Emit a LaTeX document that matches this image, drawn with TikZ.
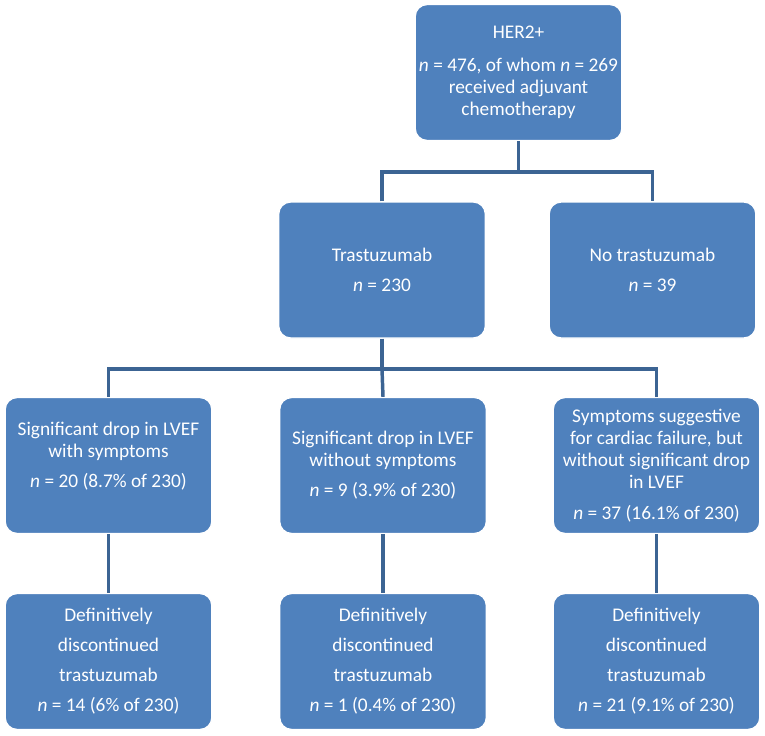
\documentclass[tikz,border=0pt]{standalone}
\usepackage{fontspec}
\setmainfont{Carlito}
\definecolor{boxblue}{HTML}{4F81BD}
\definecolor{linkblue}{HTML}{3C6493}
\begin{document}
\begin{tikzpicture}[
    x=0.75pt, y=-0.75pt,
    stage/.style={rectangle, rounded corners=9pt, draw=white, line width=1pt, fill=boxblue,
      text=white, minimum width=155pt, minimum height=102pt, align=center, inner sep=2pt,
      font=\fontsize{14.5}{16.5}\selectfont},
    link/.style={draw=linkblue, line width=2.6pt}
  ]
  \useasboundingbox (0,0) rectangle (765,736);

  \node[stage] (her) at (518.5,72.5) {HER2+\\[8pt] \textit{n} = 476, of whom \textit{n} = 269\\ received adjuvant\\ chemotherapy};
  \node[stage] (tras) at (382,270) {Trastuzumab\\[6pt] \textit{n} = 230};
  \node[stage] (notras) at (652.5,270) {No trastuzumab\\[6pt] \textit{n} = 39};

  \node[stage] (drop1) at (108.5,465.5) {Significant drop in LVEF\\ with symptoms\\[6pt] \textit{n} = 20 (8.7\% of 230)\\[0pt] \mbox{}};
  \node[stage] (drop2) at (383,465.5) {Significant drop in LVEF\\ without symptoms\\[6pt] \textit{n} = 9 (3.9\% of 230)};
  \node[stage] (susp) at (656.5,465.5) {Symptoms suggestive\\ for cardiac failure, but\\ without significant drop\\ in LVEF\\[7pt] \textit{n} = 37 (16.1\% of 230)};

  \node[stage] (stop1) at (108.5,661.5) {Definitively\\[6pt] discontinued\\[6pt] trastuzumab\\[6pt] \textit{n} = 14 (6\% of 230)};
  \node[stage] (stop2) at (383,661.5) {Definitively\\[6pt] discontinued\\[6pt] trastuzumab\\[6pt] \textit{n} = 1 (0.4\% of 230)};
  \node[stage] (stop3) at (656.5,661.5) {Definitively\\[6pt] discontinued\\[6pt] trastuzumab\\[6pt] \textit{n} = 21 (9.1\% of 230)};

  % first split
  \draw[link] (her.south) -- (her.south |- 0,172) coordinate (split1);
  \draw[link] (tras.north) |- (split1) -| (notras.north);

  % second split
  \draw[link] (tras.south) -- (tras.south |- 0,369) coordinate (split2);
  \draw[link] (drop1.north) |- (split2) -| (susp.north);
  \draw[link] (split2) -- (drop2.north);

  \draw[link] (drop1) -- (stop1);
  \draw[link] (drop2) -- (stop2);
  \draw[link] (susp) -- (stop3);
\end{tikzpicture}
\end{document}
